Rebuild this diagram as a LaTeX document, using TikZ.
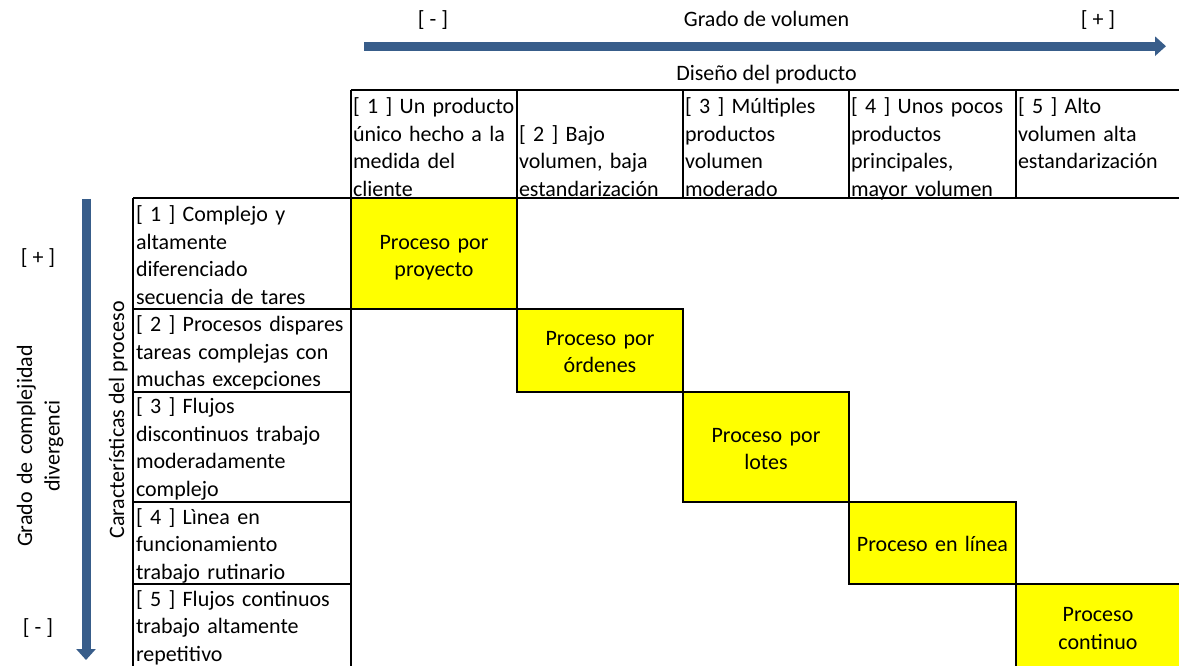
\documentclass[tikz,border=0pt]{standalone}
\usepackage{fontspec}
\setmainfont{Carlito}
\usetikzlibrary{arrows.meta}
\definecolor{arrowblue}{RGB}{56,93,138}
\definecolor{cellyellow}{RGB}{255,255,0}
\begin{document}
\begin{tikzpicture}[x=1pt,y=-1pt,
  txt/.style={font=\fontsize{22}{27.5}\selectfont, inner sep=0pt, outer sep=0pt},
  cell/.style={txt, anchor=base west, text width=#1, align=left},
  ytext/.style={txt, anchor=base, text width=#1, align=center},
  ybox/.style={draw=black, fill=cellyellow, line width=1.8pt, inner sep=0pt, outer sep=0pt},
  grid/.style={draw=black, line width=1.8pt},
  bigarrow/.style={draw=arrowblue, line width=9pt, -{Triangle[length=11pt,width=19pt]}}
]
\fill[white] (0,0) rectangle (1179,666);
\useasboundingbox (0,0) rectangle (1179,666);

% arrows
\coordinate (hstart) at (364,46.2);
\coordinate (hend) at (1166,46.2);
\draw[bigarrow] (hstart) -- (hend);
\coordinate (vstart) at (86,199);
\coordinate (vend) at (86,660);
\draw[bigarrow] (vstart) -- (vend);

% top labels
\node[txt, anchor=base] (vminus) at (433,27) {[ - ]};
\node[txt, anchor=base] (vtitle) at (766.5,27) {Grado de volumen};
\node[txt, anchor=base] (vplus) at (1098,27) {[ + ]};
\node[txt, anchor=base] (dtitle) at (766.5,81) {Diseño del producto};

% left labels
\node[txt, anchor=base] (cplus) at (38,264) {[ + ]};
\node[txt, anchor=base] (cminus) at (38,634) {[ - ]};
\node[txt, rotate=90, anchor=base, text width=240pt, align=center] (ctitle) at (32,446) {Grado de complejidad\\divergenci};
\node[txt, rotate=90, anchor=base] (ptitle) at (124,420) {Características del proceso};

% yellow boxes
\node[ybox, minimum width=166pt, minimum height=111pt] (b1) at (434,253.5) {};
\node[ybox, minimum width=166pt, minimum height=83pt] (b2) at (600,350.5) {};
\node[ybox, minimum width=166pt, minimum height=110pt] (b3) at (766,447) {};
\node[ybox, minimum width=167pt, minimum height=82pt] (b4) at (932.5,543) {};
\node[ybox, minimum width=174pt, minimum height=96pt] (b5) at (1103,632) {};

\node[ytext=160pt] (t1) at (434,249) {Proceso por\\proyecto};
\node[ytext=160pt] (t2) at (600,345) {Proceso por\\órdenes};
\node[ytext=160pt] (t3) at (766,442) {Proceso por\\lotes};
\node[ytext=166pt] (t4) at (932.5,551.5) {Proceso en línea};
\node[ytext=160pt] (t5) at (1098,621.5) {Proceso\\continuo};

% header cells
\node[cell=162pt] (h1) at (353,114) {[ 1 ] Un producto\\único hecho a la\\medida del\\cliente};
\node[cell=162pt] (h2) at (519,141.5) {[ 2 ] Bajo\\volumen, baja\\estandarización};
\node[cell=162pt] (h3) at (685,114) {[ 3 ] Múltiples\\productos\\volumen\\moderado};
\node[cell=162pt] (h4) at (851,114) {[ 4 ] Unos pocos\\productos\\principales,\\mayor volumen};
\node[cell=162pt] (h5) at (1018,114) {[ 5 ] Alto\\volumen alta\\estandarización};

% row cells
\node[cell=212pt] (r1) at (136,222) {[ 1 ] Complejo y\\altamente\\diferenciado\\secuencia de tares};
\node[cell=212pt] (r2) at (136,331.5) {[ 2 ] Procesos dispares\\tareas complejas con\\muchas excepciones};
\node[cell=212pt] (r3) at (136,413.5) {[ 3 ] Flujos\\discontinuos trabajo\\moderadamente\\complejo};
\node[cell=212pt] (r4) at (136,524) {[ 4 ] Lìnea en\\funcionamiento\\trabajo rutinario};
\node[cell=212pt] (r5) at (136,606) {[ 5 ] Flujos continuos\\trabajo altamente\\repetitivo};

% grid lines
\draw[grid] (351,90) -- (1185,90);
\draw[grid] (133,198) -- (1185,198);
\foreach \cx in {517,683,849,1016} {\draw[grid] (\cx,90) -- (\cx,198);}
\draw[grid] (351,90) -- (351,672);
\draw[grid] (133,198) -- (133,672);
\foreach \ry in {309,392,502,584} {\draw[grid] (133,\ry) -- (351,\ry);}
\end{tikzpicture}
\end{document}
